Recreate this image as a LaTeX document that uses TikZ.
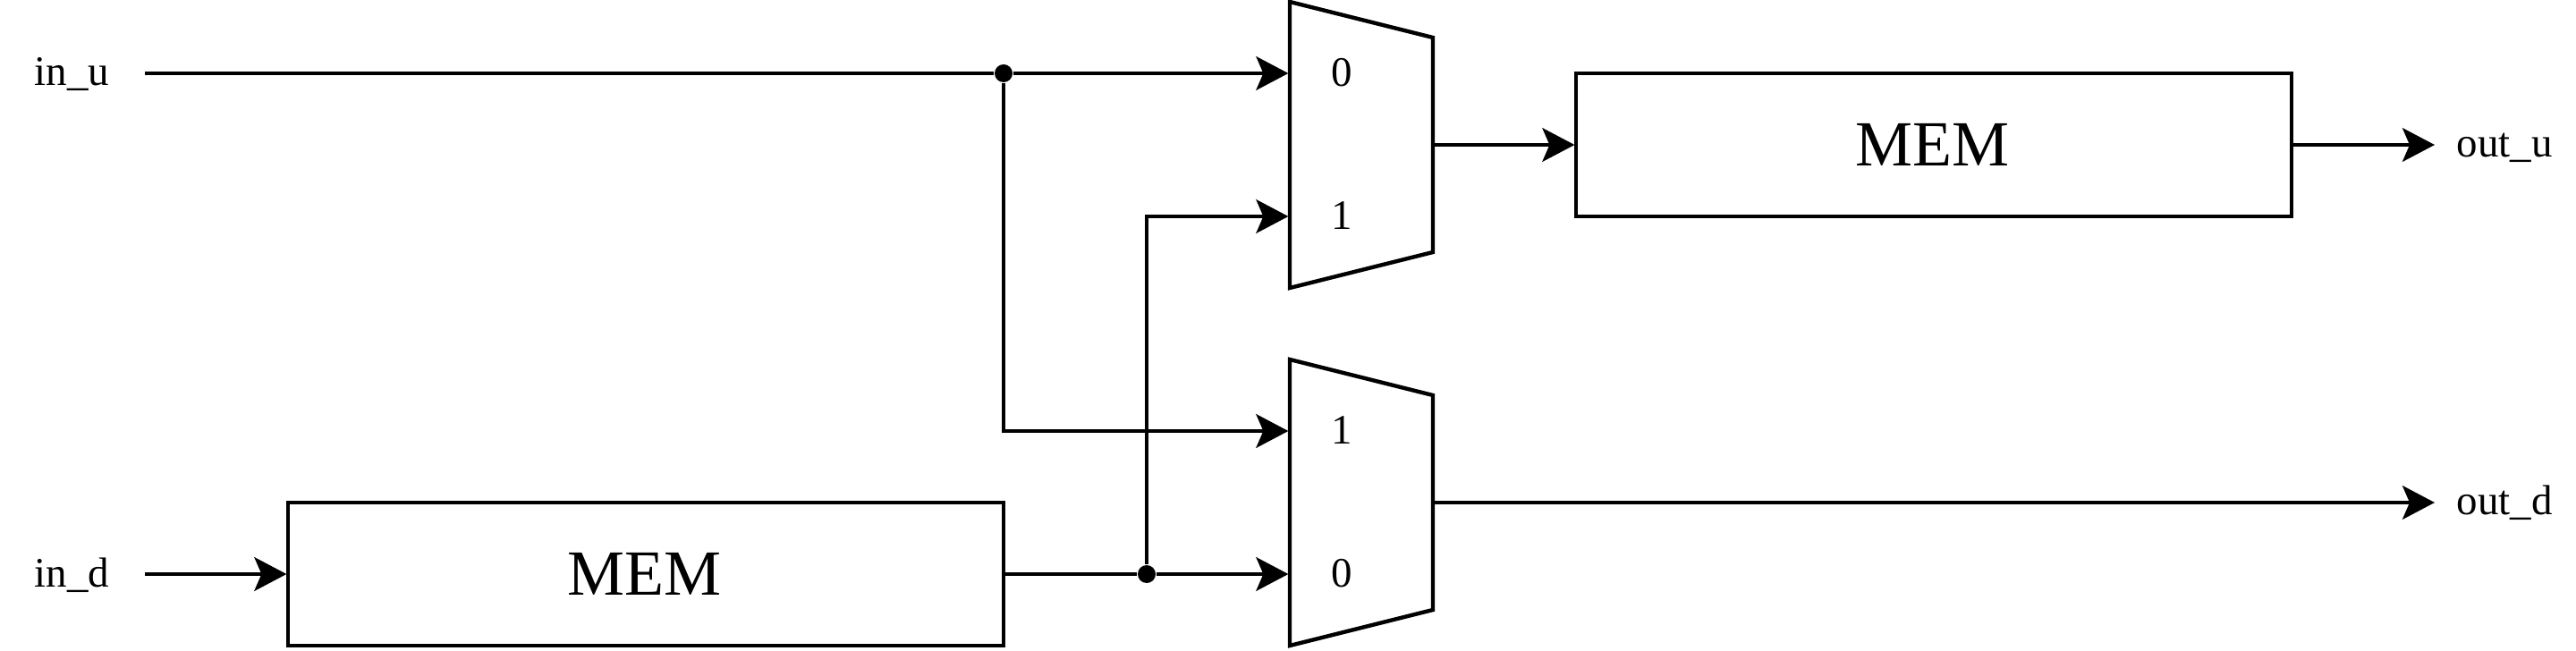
\documentclass[tikz,border=0pt]{standalone}
\usepackage{fontspec}
\setmainfont{Liberation Serif}
\usetikzlibrary{arrows.meta}
\tikzset{
	wire/.style={line width=0.055cm},
	arr/.style={wire,shorten >=0.02cm,-{Stealth[length=0.45cm,width=0.47cm,inset=0.1cm]}},
	membox/.style={draw,line width=0.055cm,minimum width=10cm,minimum height=2cm,outer sep=0pt,inner sep=0pt,font=\fontsize{25.6}{30}\selectfont},
	lbl/.style={anchor=base,inner sep=0pt,font=\fontsize{16.7}{20}\selectfont},
	dot/.style={circle,fill=black,minimum size=0.25cm,inner sep=0pt}
}
\begin{document}
\begin{tikzpicture}
		\useasboundingbox(-0.025,0.025)rectangle(35.975,-9.075);
		\draw[wire,line join=miter](18,0)--(20,-0.5)--(20,-3.5)--(18,-4)--cycle;
		\draw[wire,line join=miter](18,-5)--(20,-5.5)--(20,-8.5)--(18,-9)--cycle;
		\coordinate(muxa0)at(18,-1);
		\coordinate(muxa1)at(18,-3);
		\coordinate(muxaout)at(20,-2);
		\coordinate(muxb1)at(18,-6);
		\coordinate(muxb0)at(18,-8);
		\coordinate(muxbout)at(20,-7);
		\coordinate(inustart)at(2,-1);
		\coordinate(indstart)at(2,-8);
		\coordinate(outuend)at(34.02,-2);
		\coordinate(outdend)at(34.02,-7);
		\node(memu)[membox,text depth=0pt]at(27,-2){\hspace{-0.04cm}MEM};
		\node(memd)[membox,text depth=0pt]at(9,-8){\hspace{-0.04cm}MEM};
		\node(jcta)[dot]at(14,-1){};
		\node(jctb)[dot]at(16,-8){};
		\node(inu)[lbl]at(0.98,-1.175){in\_u};
		\node(ind)[lbl]at(0.98,-8.175){in\_d};
		\node(outu)[lbl]at(34.98,-2.175){out\_u};
		\node(outd)[lbl]at(34.98,-7.175){out\_d};
		\node(muxalbla)[lbl]at(18.725,-1.18){0};
		\node(muxalblb)[lbl]at(18.725,-3.185){1};
		\node(muxblbla)[lbl]at(18.725,-6.185){1};
		\node(muxblblb)[lbl]at(18.725,-8.185){0};
		\draw[wire](inustart)--(jcta);
		\draw[arr](jcta)--(muxa0);
		\draw[arr](jcta)|-(muxb1);
		\draw[arr](indstart)--(memd.west);
		\draw[wire](memd.east)--(jctb);
		\draw[arr](jctb)--(muxb0);
		\draw[arr](jctb)|-(muxa1);
		\draw[arr](muxaout)--(memu.west);
		\draw[arr](memu.east)--(outuend);
		\draw[arr](muxbout)--(outdend);
		\end{tikzpicture}
\end{document}
